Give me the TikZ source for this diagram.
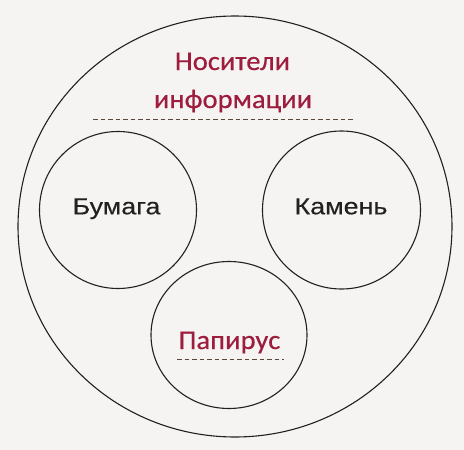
\documentclass[tikz,border=0pt]{standalone}
\usepackage{fontspec}
\setmainfont{Carlito}
\newfontfamily\redfont[FakeStretch=1.06,FakeBold=0.4]{Carlito}
\newfontfamily\blackfont[FakeStretch=1.16,FakeBold=0.3]{Liberation Sans}
\definecolor{paper}{RGB}{246,243,243}
\definecolor{ink}{RGB}{35,32,32}
\definecolor{wine}{RGB}{158,28,60}
\definecolor{dash}{RGB}{90,70,60}
\begin{document}
\begin{tikzpicture}[x=1pt,y=-1pt,
  ring/.style={draw=ink,line width=1.1pt},
  redlabel/.style={text=wine,font=\redfont\fontsize{27}{32}\selectfont,anchor=base,inner sep=0pt},
  blacklabel/.style={text=ink,font=\blackfont\fontsize{23.2}{28}\selectfont,anchor=base,inner sep=0pt},
  dashline/.style={draw=dash,line width=0.9pt,dash pattern=on 4.5pt off 3pt}]
\useasboundingbox[fill=paper] (0,0) rectangle (464,450);
\draw[ring] (235,226.5) ellipse [x radius=217, y radius=210.5];
\draw[ring] (118,210) circle [radius=78.5];
\draw[ring] (341.5,210) circle [radius=79];
\draw[ring] (229,335) ellipse [x radius=78, y radius=73.5];
\node[redlabel] (nos) at (232.5,70) {Носители};
\node[redlabel] (inf) at (233,108) {информации};
\coordinate (d1a) at (93,119);
\coordinate (d1b) at (353,119);
\draw[dashline] (d1a) -- (d1b);
\node[blacklabel] (bum) at (116.5,214.3) {Бумага};
\node[blacklabel] (kam) at (341,214.3) {Камень};
\node[redlabel] (pap) at (229.5,349) {Папирус};
\coordinate (d2a) at (177,359.5);
\coordinate (d2b) at (284,359.5);
\draw[dashline] (d2a) -- (d2b);
\end{tikzpicture}
\end{document}
